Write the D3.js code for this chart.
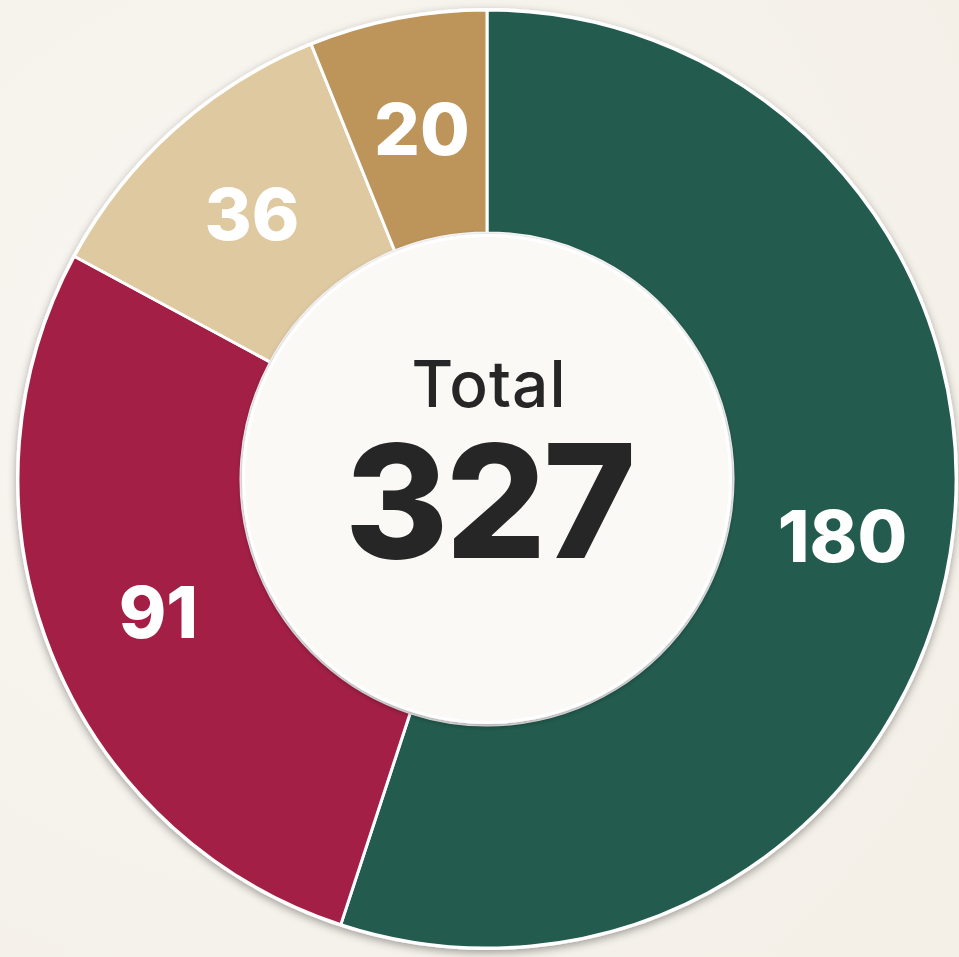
<!DOCTYPE html>
<html><head><meta charset="utf-8">
<script src="https://cdn.jsdelivr.net/npm/d3@7"></script>
<style>
html,body{margin:0;padding:0;background:#f7f4ee;}
svg{display:block;}
</style></head>
<body>
<svg id="chart" width="959" height="957"></svg>
<script>
const categories = ["A", "B", "C", "D"];
const values = [180, 91, 36, 20];
const colors = ["#235c4f", "#a31f46", "#dec9a1", "#bd945a"];
const totalLabel = "Total";

const W = 959, H = 957;
const cx = 487, cy = 479, rOuter = 469, rInner = 246, rLabel = 357;
const svg = d3.select("#chart");
const defs = svg.append("defs");

const bg = defs.append("radialGradient").attr("id","bg").attr("cx","30%").attr("cy","40%").attr("r","80%");
bg.append("stop").attr("offset","0%").attr("stop-color","#f9f7f3");
bg.append("stop").attr("offset","100%").attr("stop-color","#f4f0e8");
svg.append("rect").attr("width",W).attr("height",H).attr("fill","url(#bg)");

const f = defs.append("filter").attr("id","sh").attr("x","-10%").attr("y","-10%").attr("width","120%").attr("height","125%");
f.append("feDropShadow").attr("dx",0).attr("dy",3).attr("stdDeviation",4).attr("flood-color","#000").attr("flood-opacity",0.35);

const fi = defs.append("filter").attr("id","ish").attr("x","-20%").attr("y","-20%").attr("width","140%").attr("height","140%");
fi.append("feDropShadow").attr("dx",0).attr("dy",2).attr("stdDeviation",3).attr("flood-color","#000").attr("flood-opacity",0.4);

const g = svg.append("g").attr("transform",`translate(${cx},${cy})`);

const pie = d3.pie().sort(null).value(d => d)(values);
const arc = d3.arc().innerRadius(rInner).outerRadius(rOuter);
const labelArc = d3.arc().innerRadius(rLabel).outerRadius(rLabel);

g.append("circle").attr("r", rOuter + 2).attr("fill","#ffffff").attr("filter","url(#sh)");

g.selectAll("path.slice").data(pie).join("path")
  .attr("class","slice")
  .attr("d", arc)
  .attr("fill", (d,i) => colors[i])
  .attr("stroke","#ffffff")
  .attr("stroke-width",3)
  .attr("stroke-linejoin","round");

g.append("circle").attr("r", rInner - 1).attr("fill","#ffffff").attr("filter","url(#ish)");
g.append("circle").attr("r", rInner - 4).attr("fill","#fbf9f6");

g.selectAll("text.lbl").data(pie).join("text")
  .attr("class","lbl")
  .attr("x", d => labelArc.centroid(d)[0] + 3)
  .attr("y", d => labelArc.centroid(d)[1])
  .attr("text-anchor","middle")
  .attr("dominant-baseline","central")
  .attr("font-family","Inter, 'Open Sans', sans-serif")
  .attr("font-weight",800)
  .attr("font-size",72)
  .attr("fill","#ffffff")
  .text(d => d.data);

const center = g.append("text")
  .attr("text-anchor","middle")
  .attr("fill","#262626")
  .attr("font-family","Inter, sans-serif");
center.append("tspan")
  .attr("x",2).attr("y",-72)
  .attr("font-weight",500)
  .attr("font-size",64)
  .attr("letter-spacing",1)
  .text(totalLabel);
center.append("tspan")
  .attr("x",2).attr("y",79)
  .attr("font-weight",800)
  .attr("font-size",158)
  .attr("letter-spacing",-3)
  .text(d3.sum(values));
</script>
</body></html>
